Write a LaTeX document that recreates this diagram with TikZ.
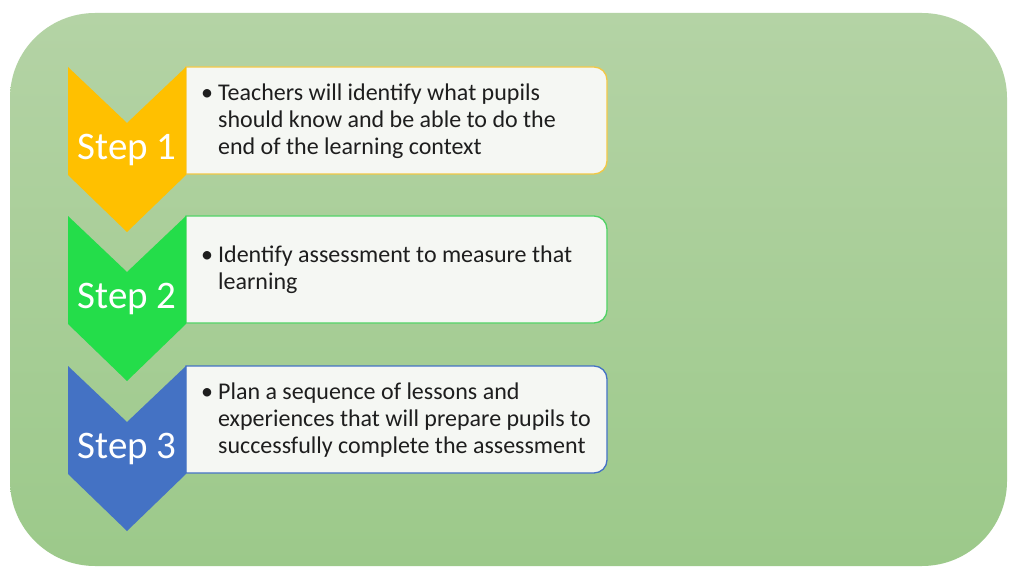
\documentclass[tikz,border=0pt]{standalone}
\usepackage{fontspec}
\setmainfont{Carlito}
\usetikzlibrary{calc}
\definecolor{bgtop}{RGB}{180,211,165}
\definecolor{bgbot}{RGB}{156,201,138}
\definecolor{cyel}{RGB}{255,192,0}
\definecolor{cgrn}{RGB}{36,221,74}
\definecolor{cblu}{RGB}{68,114,196}
\definecolor{byel}{RGB}{242,200,70}
\definecolor{bgrn}{RGB}{80,210,100}
\definecolor{bblu}{RGB}{68,114,196}
\definecolor{boxfill}{RGB}{245,247,243}
\definecolor{txt}{RGB}{30,30,30}
\tikzset{
  steplabel/.style={text=white,inner sep=0pt,font=\fontsize{39}{44}\selectfont},
  bodytext/.style={text=txt,inner sep=0pt,anchor=west,font=\fontsize{24}{26.7}\selectfont},
  boxline/.style={line width=1.3pt,fill=boxfill},
}
\newcommand{\stepchev}[4]{% #1 top y, #2 colour, #3 name, #4 label
  \fill[#2] (68,#1) -- (127,#1-56) -- (186,#1) -- (186,#1-108) -- (127,#1-165) -- (68,#1-108) -- cycle;
  \node[steplabel] (#3) at (127,#1-83) {#4};
}
\newcommand{\stepbox}[2]{% #1 top y, #2 colour
  \draw[boxline,draw=#2] (186,#1) -- (594,#1) arc(90:0:13) -- (607,#1-94) arc(0:-90:13) -- (186,#1-107) -- cycle;
}
\begin{document}
\begin{tikzpicture}[x=1pt,y=1pt]
\useasboundingbox (0,0) rectangle (1024,576);
\fill[white] (0,0) rectangle (1024,576);
\shade[top color=bgtop,bottom color=bgbot,rounded corners=85pt] (10,10) rectangle (1007,563);
% boxes
\stepbox{509}{byel}
\stepbox{360}{bgrn}
\stepbox{210}{bblu}
% chevrons
\stepchev{509}{cyel}{s1}{Step 1}
\stepchev{360}{cgrn}{s2}{Step 2}
\stepchev{210}{cblu}{s3}{Step 3}
% texts
\node[bodytext] (t1) at (201,509-55) {\begin{tabular}{@{}l@{\hspace{5pt}}l@{}}•&Teachers will identify what pupils\\&should know and be able to do the\\&end of the learning context\end{tabular}};
\node[bodytext] (t2) at (201,360-55) {\begin{tabular}{@{}l@{\hspace{5pt}}l@{}}•&Identify assessment to measure that\\&learning\end{tabular}};
\node[bodytext] (t3) at (201,210-55) {\begin{tabular}{@{}l@{\hspace{5pt}}l@{}}•&Plan a sequence of lessons and\\&experiences that will prepare pupils to\\&successfully complete the assessment\end{tabular}};
\end{tikzpicture}
\end{document}
